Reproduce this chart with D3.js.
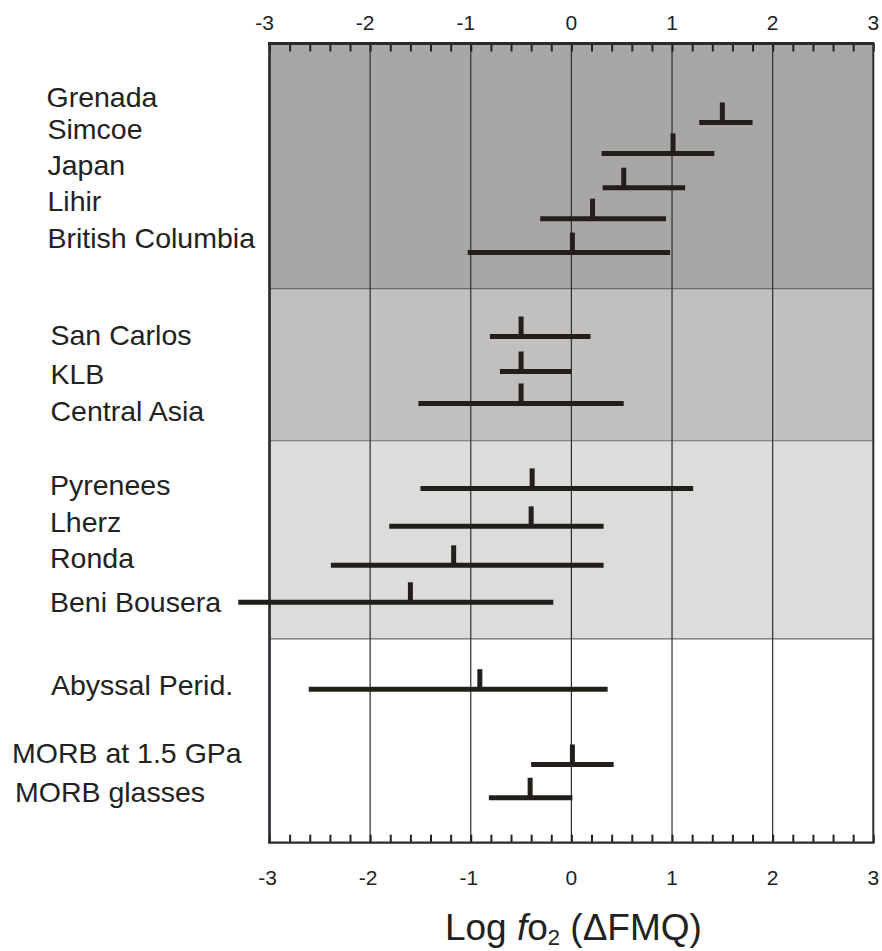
<!DOCTYPE html>
<html>
<head>
<meta charset="utf-8">
<script src="https://cdn.jsdelivr.net/npm/d3@7"></script>
<style>
  body { margin: 0; background: #fff; }
  svg text { font-family: "Liberation Sans", Arial, sans-serif; fill: #222; }
</style>
</head>
<body>
<div id="chart"></div>
<script>
// sample names, top to bottom
const samples = [
  'Grenada', 'Simcoe', 'Japan', 'Lihir', 'British Columbia',
  'San Carlos', 'KLB', 'Central Asia',
  'Pyrenees', 'Lherz', 'Ronda', 'Beni Bousera',
  'Abyssal Perid.',
  'MORB at 1.5 GPa', 'MORB glasses'
];
// vertical position of each range (row units, 0 = top of frame, 24 = bottom)
const rowPos = [2.37, 3.30, 4.33, 5.26, 6.28, 8.80, 9.85, 10.81, 13.36, 14.50, 15.67, 16.78, 19.39, 21.65, 22.65];
// log fO2 (delta FMQ) ranges and typical value
const lowVals  = [1.27, 0.30, 0.31, -0.31, -1.03, -0.81, -0.71, -1.52, -1.50, -1.81, -2.39, -3.31, -2.61, -0.40, -0.82];
const highVals = [1.80, 1.42, 1.13, 0.94, 0.98, 0.19, 0.00, 0.52, 1.21, 0.32, 0.32, -0.18, 0.36, 0.42, 0.01];
const midVals  = [1.50, 1.01, 0.52, 0.21, 0.01, -0.50, -0.50, -0.50, -0.39, -0.40, -1.17, -1.60, -0.91, 0.01, -0.41];
// shaded groups (row units)
const bandEdges = [0, 7.36, 11.93, 17.88, 24];
const bandColors = ['#a8a7a5', '#c1c0be', '#dcdcda', '#ffffff'];
const tickValues = [-3, -2, -1, 0, 1, 2, 3];

// label placement (text baseline offset from range line, left x)
const labelLayout = {
  dy: [-15.3, -14.3, -12.3, -7.6, -5, 8.7, 12, 17.4, 6.7, 5.4, 3, 10, 5.7, -1.4, 4.7],
  x:  [46.5, 47.5, 47.5, 47.5, 47.5, 50.5, 50.5, 50.5, 50, 50, 50, 50, 51, 12, 15]
};

const config = {
  width: 882, height: 951,
  left: 269.5, right: 873.3, top: 43.5, bottom: 842.7,
  barColor: '#221f1b', barWidth: 5, tickHeight: 20
};

const svg = d3.select('#chart').append('svg')
  .attr('width', config.width)
  .attr('height', config.height);

const x = d3.scaleLinear().domain([-3, 3]).range([config.left, config.right]);
const y = d3.scaleLinear().domain([0, 24]).range([config.top, config.bottom]);

// background bands
const bands = d3.range(bandColors.length).map(i => ({ y0: bandEdges[i], y1: bandEdges[i + 1], color: bandColors[i] }));
svg.append('g').selectAll('rect')
  .data(bands)
  .join('rect')
    .attr('x', x(-3))
    .attr('y', d => y(d.y0))
    .attr('width', x(3) - x(-3))
    .attr('height', d => y(d.y1) - y(d.y0))
    .attr('fill', d => d.color);

// band borders
svg.append('g').selectAll('line')
  .data(bandEdges.slice(1, -1))
  .join('line')
    .attr('x1', x(-3)).attr('x2', x(3))
    .attr('y1', d => y(d)).attr('y2', d => y(d))
    .attr('stroke', '#6b6b6b')
    .attr('stroke-width', 1.2);

// vertical grid
svg.append('g').selectAll('line')
  .data(tickValues.slice(1, -1))
  .join('line')
    .attr('x1', d => x(d)).attr('x2', d => x(d))
    .attr('y1', y(0)).attr('y2', y(24))
    .attr('stroke', '#2e2e2e')
    .attr('stroke-width', 1.2);

// minor ticks on top and bottom (inward)
const minor = d3.range(-3, 3.001, 0.2).map(v => Math.round(v * 10) / 10);
const topAxis = d3.axisBottom(x).tickValues(minor).tickSize(8).tickFormat('');
const botAxis = d3.axisTop(x).tickValues(minor).tickSize(8).tickFormat('');
[[topAxis, y(0)], [botAxis, y(24)]].forEach(([ax, ty]) => {
  const g = svg.append('g').attr('transform', `translate(0,${ty})`).call(ax);
  g.select('.domain').remove();
  g.selectAll('line').attr('stroke', '#222').attr('stroke-width', 2);
});

// frame
svg.append('line').attr('x1', x(-3) - 1.5).attr('x2', x(3) + 1)
  .attr('y1', y(0)).attr('y2', y(0))
  .attr('stroke', '#2b2b2b').attr('stroke-width', 3);
svg.append('line').attr('x1', x(-3) - 1.3).attr('x2', x(3) + 1)
  .attr('y1', y(24)).attr('y2', y(24))
  .attr('stroke', '#2b2b2b').attr('stroke-width', 2.3);
svg.append('line').attr('x1', x(-3)).attr('x2', x(-3))
  .attr('y1', y(0)).attr('y2', y(24))
  .attr('stroke', '#2c2c34').attr('stroke-width', 2.7);
svg.append('line').attr('x1', x(3)).attr('x2', x(3))
  .attr('y1', y(0)).attr('y2', y(24))
  .attr('stroke', '#2c2c34').attr('stroke-width', 2);

// tick labels
svg.append('g').selectAll('text')
  .data(tickValues)
  .join('text')
    .attr('x', d => x(d) + (d < 0 ? -5 : 0))
    .attr('y', 29.5)
    .attr('text-anchor', 'middle')
    .attr('font-size', 21)
    .text(d => d);
svg.append('g').selectAll('text')
  .data(tickValues)
  .join('text')
    .attr('x', d => x(d) + (d < 0 ? -2 : 0))
    .attr('y', 885)
    .attr('text-anchor', 'middle')
    .attr('font-size', 21)
    .text(d => d);

// ranges
const rows = samples.map((name, i) => ({ name, row: rowPos[i], lo: lowVals[i], hi: highVals[i], mid: midVals[i], i }));
const marks = svg.append('g');
marks.selectAll('.range')
  .data(rows)
  .join('line')
    .attr('class', 'range')
    .attr('x1', d => x(d.lo)).attr('x2', d => x(d.hi))
    .attr('y1', d => y(d.row)).attr('y2', d => y(d.row))
    .attr('stroke', config.barColor)
    .attr('stroke-width', config.barWidth);
marks.selectAll('.mid')
  .data(rows)
  .join('line')
    .attr('class', 'mid')
    .attr('x1', d => x(d.mid)).attr('x2', d => x(d.mid))
    .attr('y1', d => y(d.row) - config.tickHeight).attr('y2', d => y(d.row))
    .attr('stroke', config.barColor)
    .attr('stroke-width', config.barWidth);

// sample labels
svg.append('g').selectAll('text')
  .data(rows)
  .join('text')
    .attr('x', d => labelLayout.x[d.i])
    .attr('y', d => y(d.row) + labelLayout.dy[d.i])
    .attr('font-size', 28.5)
    .text(d => d.name);

// x axis title
const title = svg.append('text')
  .attr('x', x(0) + 2)
  .attr('y', 940)
  .attr('text-anchor', 'middle')
  .attr('font-size', 37);
title.append('tspan').text('Log ');
title.append('tspan').attr('font-style', 'italic').text('f');
title.append('tspan').text('o');
title.append('tspan').attr('font-size', 22).attr('dy', 5).text('2');
title.append('tspan').attr('dy', -5).text(' (\u0394FMQ)');
</script>
</body>
</html>
